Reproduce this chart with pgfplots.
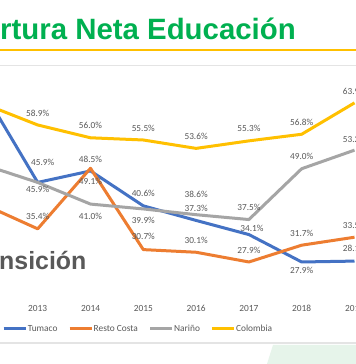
\documentclass[border=0pt]{standalone}
\usepackage{fontspec}
\setmainfont{Carlito}
\newfontfamily\arial{Liberation Sans}
\usepackage{pgfplots}
\pgfplotsset{compat=1.18}
\usepackage{pgfplotstable}
\definecolor{cTum}{HTML}{4472C4}
\definecolor{cRes}{HTML}{ED7D31}
\definecolor{cNar}{HTML}{A5A5A5}
\definecolor{cCol}{HTML}{FFC000}
\definecolor{cTitle}{HTML}{00B050}
\definecolor{cTxt}{HTML}{595959}
\definecolor{cMint}{HTML}{E6F4EA}
\definecolor{cRule}{HTML}{E4E4E4}

\pgfplotstableread{
year val dy dx
2012 66.0 12 0
2013 45.9 20 5
2014 48.5 12 0
2015 40.6 12 0
2016 37.3 12 0
2017 34.1 6 3
2018 27.9 -8 0
2019 28.1 13 0
}\tumaco
\pgfplotstableread{
year val dy dx
2012 40.8 12 0
2013 35.4 12 0
2014 49.1 -13 0
2015 30.7 13 0
2016 30.1 12 0
2017 27.9 12 0
2018 31.7 12 0
2019 33.5 12 0
}\resto
\pgfplotstableread{
year val dy dx
2012 49.8 -12 0
2013 45.9 -7 0
2014 41.0 -12 0
2015 39.9 -11 0
2016 38.6 20 0
2017 37.5 12 0
2018 49.0 12 0
2019 53.2 11 0
}\narino
\pgfplotstableread{
year val dy dx
2012 63.6 12 0
2013 58.9 12 0
2014 56.0 12 0
2015 55.5 12 0
2016 53.6 12 0
2017 55.3 12 0
2018 56.8 12 0
2019 63.9 11 0
}\colombia

\begin{document}
\begin{tikzpicture}
\useasboundingbox (0bp,0bp) rectangle (356bp,364bp);
\clip (0bp,0bp) rectangle (356bp,364bp);
\fill[white] (0bp,0bp) rectangle (356bp,364bp);
\fill[cMint] (267bp,0bp) -- (273bp,19bp) -- (356bp,19bp) -- (356bp,0bp) -- cycle;
\draw[cRule, line width=1.2bp] (0bp,21bp) -- (356bp,21bp);
\draw[cRule, line width=0.8bp] (0bp,299bp) -- (356bp,299bp);
\draw[cCol, line width=2bp] (0bp,314bp) -- (356bp,314bp);
\node[anchor=base west, inner sep=0pt, text=cTitle, font=\arial\bfseries\fontsize{29.5}{32}\selectfont] at (0bp,324.8bp) {\llap{Cobe}rtura Neta Educación};
\node[anchor=base west, inner sep=0pt, text=cTxt, font=\arial\bfseries\fontsize{25}{28}\selectfont] at (-1bp,94bp) {\llap{Tra}nsición};
\begin{axis}[
  at={(-15.1bp,67.1bp)}, anchor=south west,
  scale only axis, width=369.6bp, height=221bp,
  xmin=2012, xmax=2019, ymin=20, ymax=70,
  clip=false,
  axis line style={draw=none},
  ytick=\empty,
  xtick={2013,2014,2015,2016,2017,2018,2019},
  xticklabels={2013,2014,2015,2016,2017,2018,2019},
  major tick length=0pt,
  xticklabel style={anchor=center, yshift=-11.1bp, font=\fontsize{9.4}{11}\selectfont, text=cTxt},
  /pgf/number format/assume math mode=true,
  every axis plot/.append style={line width=3bp, line join=round, mark=none},
  point meta=y,
  nodes near coords={\pgfmathprintnumber[fixed,fixed zerofill,precision=1]{\pgfplotspointmeta}\%},
  visualization depends on={\thisrow{dy}\as\mydy},
  visualization depends on={\thisrow{dx}\as\mydx},
  every node near coord/.append style={anchor=center, inner sep=0pt, font=\fontsize{9.3}{11}\selectfont, text=cTxt, yshift=\mydy bp, xshift=\mydx bp},
  legend columns=4,
  legend style={at={(0.0463,-0.145)}, anchor=west, draw=none, fill=none, inner sep=0pt,
    font=\fontsize{9.4}{11}\selectfont, text=cTxt,
    nodes={inner sep=0.6bp},
    /tikz/every even column/.append style={column sep=10bp}},
  legend image code/.code={\draw[#1] (0bp,0bp) -- (22bp,0bp);},
]
\addplot[cTum] table[x=year,y=val] {\tumaco};
\addplot[cRes] table[x=year,y=val] {\resto};
\addplot[cNar] table[x=year,y=val] {\narino};
\addplot[cCol] table[x=year,y=val] {\colombia};
\legend{Tumaco,Resto Costa,Nariño,Colombia}
\end{axis}
\end{tikzpicture}
\end{document}
